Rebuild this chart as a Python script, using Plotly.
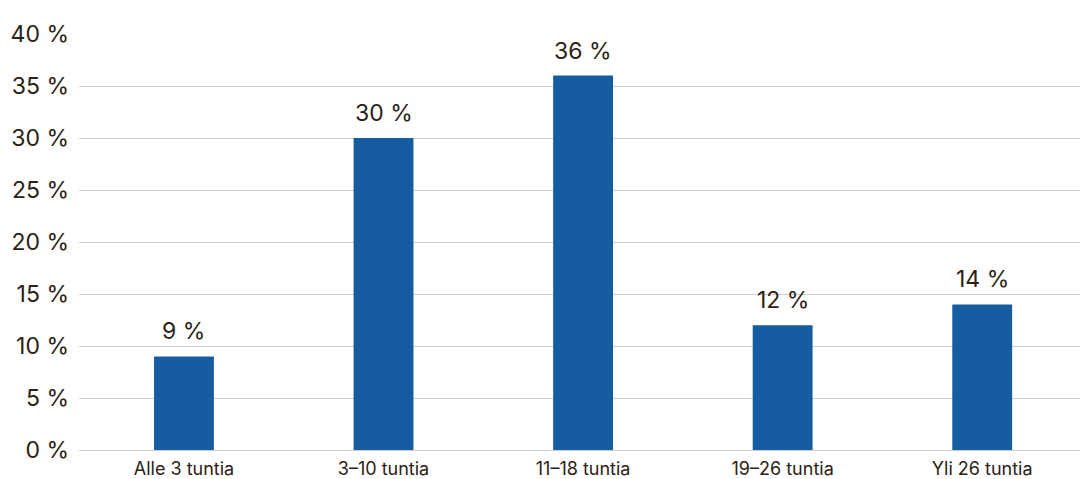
import plotly.graph_objects as go

categories = ["Alle 3 tuntia", "3–10 tuntia", "11–18 tuntia", "19–26 tuntia", "Yli 26 tuntia"]
values = [9, 30, 36, 12, 14]
labels = [f"{v} %" for v in values]
y_ticks = [0, 5, 10, 15, 20, 25, 30, 35, 40]
y_tick_text = [f"{t} %" for t in y_ticks]

text_color = "#2b2215"
font_family = "Inter, Roboto, sans-serif"

xs = list(range(len(categories)))

fig = go.Figure(go.Bar(
    x=xs,
    y=values,
    marker=dict(color="#155da0", line=dict(width=0)),
    width=0.3,
    hoverinfo="skip",
))

for x, v, lab in zip(xs, values, labels):
    fig.add_annotation(
        x=x, y=v, text=lab, showarrow=False,
        xanchor="center", yanchor="bottom", yshift=9,
        font=dict(size=23, color=text_color, family=font_family),
    )

W, H = 1080, 479
left, right, top, bottom = 79, 0, 33.5, 29

fig.update_layout(
    width=W, height=H,
    margin=dict(l=left, r=right, t=top, b=bottom, pad=0),
    paper_bgcolor="white", plot_bgcolor="white",
    showlegend=False,
    font=dict(family=font_family, color=text_color),
    xaxis=dict(
        tickmode="array",
        tickvals=xs,
        ticktext=categories,
        range=[-0.526, 4.49],
        showgrid=False,
        zeroline=False,
        showline=False,
        ticks="",
        ticklabelstandoff=6,
        tickfont=dict(size=18, color=text_color, family=font_family),
    ),
    yaxis=dict(
        range=[0, 40],
        tickmode="array",
        tickvals=y_ticks,
        ticktext=y_tick_text,
        showgrid=True,
        gridcolor="#cfcfcf",
        gridwidth=1,
        zeroline=True,
        zerolinecolor="#cfcfcf",
        zerolinewidth=1,
        showline=False,
        ticks="",
        ticklabelstandoff=9,
        tickfont=dict(size=23, color=text_color, family=font_family),
    ),
)

fig.write_html("out.html")
